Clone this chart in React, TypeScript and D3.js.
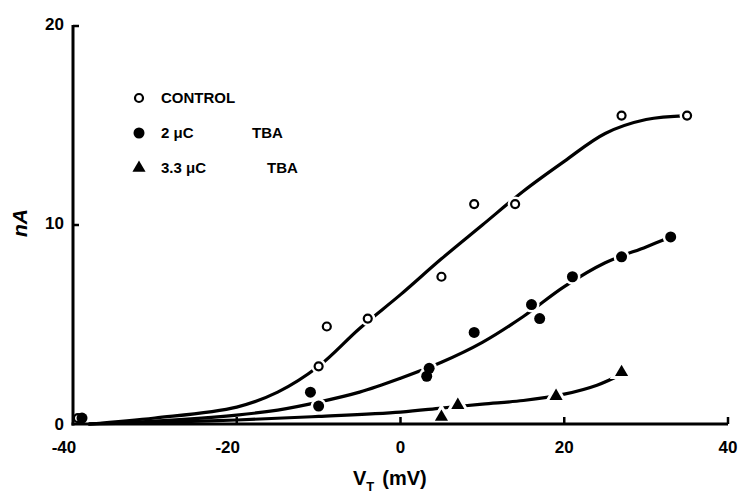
import React, { useRef, useEffect } from 'react';
import * as d3 from 'd3';

// measured points (VT in mV, current in nA)
const controlX = [-39.4, -10, -9, -4, 5, 9, 14, 27, 35];
const controlY = [0.3, 2.9, 4.9, 5.3, 7.4, 11.05, 11.05, 15.5, 15.5];
const tba2X = [-38.9, -11, -10, 3.2, 3.5, 9, 16, 17, 21, 27, 33];
const tba2Y = [0.3, 1.6, 0.9, 2.4, 2.8, 4.6, 6.0, 5.3, 7.4, 8.4, 9.4];
const tba33X = [5, 7, 19, 27];
const tba33Y = [0.35, 0.95, 1.4, 2.6];

// fitted curves
const controlFitX = [-38, -30, -20, -15, -10, -5, 0, 5, 10, 15, 20, 25, 30, 35];
const controlFitY = [0, 0.3, 0.85, 1.6, 2.9, 4.8, 6.5, 8.3, 10.0, 11.7, 13.2, 14.6, 15.3, 15.5];
const tba2FitX = [-38, -30, -20, -15, -10, -5, 0, 5, 10, 15, 20, 25, 30, 33];
const tba2FitY = [0, 0.15, 0.45, 0.7, 1.1, 1.6, 2.3, 3.1, 4.1, 5.4, 6.9, 8.1, 8.9, 9.4];
const tba33FitX = [-38, -30, -20, -10, 0, 5, 10, 15, 20, 24, 27];
const tba33FitY = [0, 0.08, 0.2, 0.38, 0.6, 0.8, 1.0, 1.18, 1.5, 1.95, 2.5];

const xTicks = [-40, -20, 0, 20, 40];
const yTicks = [0, 10, 20];
const legendLabels = ['CONTROL', '2 \u03bcC', '3.3 \u03bcC'];
const legendSuffix = ['', 'TBA', 'TBA'];

const App = () => {
  const svgRef = useRef(null);

  useEffect(() => {
    const width = 738;
    const height = 499;
    const font = "'Liberation Sans', Arial, sans-serif";

    d3.select(svgRef.current).selectAll('*').remove();
    const svg = d3.select(svgRef.current)
      .attr('width', width)
      .attr('height', height);

    const xScale = d3.scaleLinear().domain([-40, 40]).range([73, 728]);
    const yScale = d3.scaleLinear().domain([0, 20]).range([424, 26]);

    const series = [
      { x: controlX, y: controlY, fx: controlFitX, fy: controlFitY, kind: 'open' },
      { x: tba2X, y: tba2Y, fx: tba2FitX, fy: tba2FitY, kind: 'filled' },
      { x: tba33X, y: tba33Y, fx: tba33FitX, fy: tba33FitY, kind: 'tri' },
    ];

    // fitted curves
    const line = d3.line()
      .x(d => xScale(d[0]))
      .y(d => yScale(d[1]))
      .curve(d3.curveCatmullRom.alpha(0.5));

    series.forEach(s => {
      svg.append('path')
        .datum(s.fx.map((v, i) => [v, s.fy[i]]))
        .attr('fill', 'none')
        .attr('stroke', '#000')
        .attr('stroke-width', 3.2)
        .attr('stroke-linecap', 'round')
        .attr('d', line);
    });

    const tri = d3.symbol().type(d3.symbolTriangle).size(75);

    const drawMarker = (g, kind, cx, cy, halo) => {
      if (kind === 'tri') {
        g.append('path')
          .attr('d', tri)
          .attr('transform', `translate(${cx},${cy})`)
          .attr('fill', halo ? '#fff' : '#000')
          .attr('stroke', '#fff')
          .attr('stroke-width', halo ? 6 : 0);
      } else if (kind === 'filled') {
        g.append('circle')
          .attr('cx', cx).attr('cy', cy)
          .attr('r', halo ? 8 : 5.5)
          .attr('fill', halo ? '#fff' : '#000');
      } else {
        g.append('circle')
          .attr('cx', cx).attr('cy', cy)
          .attr('r', halo ? 7.5 : 4)
          .attr('fill', '#fff')
          .attr('stroke', halo ? 'none' : '#000')
          .attr('stroke-width', 2.2);
      }
    };

    // white gaps in the curves around the points
    const halos = svg.append('g');
    series.forEach(s => {
      s.x.forEach((v, i) => {
        if (v > -38) drawMarker(halos, s.kind, xScale(v), yScale(s.y[i]), true);
      });
    });

    // axes
    svg.append('line')
      .attr('x1', xScale(-40)).attr('x2', xScale(-40))
      .attr('y1', yScale(20) - 1).attr('y2', yScale(0) + 1.5)
      .attr('stroke', '#000').attr('stroke-width', 3);
    svg.append('line')
      .attr('x1', xScale(-40) - 1.5).attr('x2', xScale(40))
      .attr('y1', yScale(0)).attr('y2', yScale(0))
      .attr('stroke', '#000').attr('stroke-width', 3);

    yTicks.forEach(t => {
      if (t > 0) {
        svg.append('line')
          .attr('x1', xScale(-40)).attr('x2', xScale(-40) + 6)
          .attr('y1', yScale(t)).attr('y2', yScale(t))
          .attr('stroke', '#000').attr('stroke-width', 2.5);
      }
      svg.append('text')
        .attr('x', xScale(-40) - 9)
        .attr('y', yScale(t) + (t === 0 ? 0 : -2))
        .attr('dy', '0.35em')
        .attr('text-anchor', 'end')
        .style('font-family', font)
        .style('font-weight', 'bold')
        .style('font-size', '17px')
        .text(t);
    });

    xTicks.forEach(t => {
      if (t > -40) {
        svg.append('line')
          .attr('x1', xScale(t)).attr('x2', xScale(t))
          .attr('y1', yScale(0)).attr('y2', yScale(0) - 7)
          .attr('stroke', '#000').attr('stroke-width', 2.5);
      }
      svg.append('text')
        .attr('x', xScale(t) - (t < 0 ? 9 : 0))
        .attr('y', yScale(0) + 29)
        .attr('text-anchor', 'middle')
        .style('font-family', font)
        .style('font-weight', 'bold')
        .style('font-size', '17px')
        .text(t < 0 ? '-' + Math.abs(t) : t);
    });

    // axis titles
    const xt = svg.append('text')
      .attr('x', 353)
      .attr('y', 485)
      .style('font-family', font)
      .style('font-weight', 'bold')
      .style('font-size', '20px');
    xt.append('tspan').text('V');
    xt.append('tspan').attr('dy', 6).style('font-size', '13px').text('T');
    xt.append('tspan').attr('dy', -6).attr('dx', 8).text('(mV)');

    svg.append('text')
      .attr('transform', 'translate(27,223) rotate(-90)')
      .attr('text-anchor', 'middle')
      .style('font-family', font)
      .style('font-weight', 'bold')
      .style('font-style', 'italic')
      .style('font-size', '21px')
      .text('nA');

    // points
    const marks = svg.append('g');
    series.forEach(s => {
      s.x.forEach((v, i) => {
        drawMarker(marks, s.kind, xScale(v), yScale(s.y[i]), false);
      });
    });

    // legend
    const legend = svg.append('g');
    series.forEach((s, i) => {
      const ly = 98 + i * 35;
      drawMarker(legend, s.kind, 139, ly, false);
      legend.append('text')
        .attr('x', 161)
        .attr('y', ly)
        .attr('dy', '0.35em')
        .style('font-family', font)
        .style('font-weight', 'bold')
        .style('font-size', '15px')
        .text(legendLabels[i]);
      if (legendSuffix[i]) {
        legend.append('text')
          .attr('x', i === 1 ? 252 : 267)
          .attr('y', ly)
          .attr('dy', '0.35em')
          .style('font-family', font)
          .style('font-weight', 'bold')
          .style('font-size', '15px')
          .text(legendSuffix[i]);
      }
    });
  }, []);

  return (
    <svg ref={svgRef} style={{ position: 'absolute', left: 0, top: 0, background: '#fff' }}></svg>
  );
};

export default App;
